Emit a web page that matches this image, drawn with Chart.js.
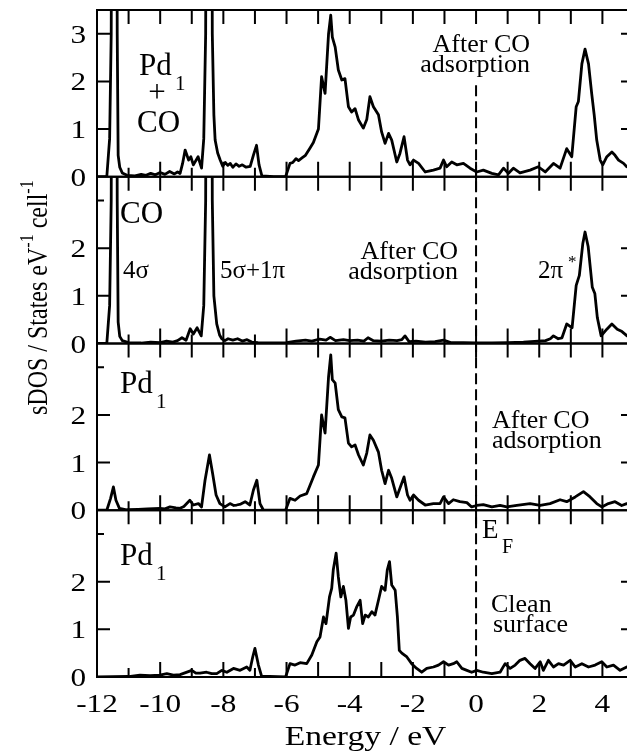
<!DOCTYPE html>
<html><head><meta charset="utf-8">
<script src="https://cdn.jsdelivr.net/npm/chart.js@4/dist/chart.umd.min.js"></script>
<style>
html,body{margin:0;padding:0;background:#fff;overflow:hidden;width:627px;height:751px}
#wrap{position:absolute;left:0;top:0;width:640px;height:751px}
.pre{font-family:"Liberation Serif";position:absolute;left:-999px;top:0}
</style>
</head><body>
<span class="pre">Pd</span>
<div id="wrap"><canvas id="c" width="640" height="751"></canvas></div>
<script>
// ---------- data ----------
const X_MIN = -12, X_MAX = 5;
const X_TICK_LABELS = [-12, -10, -8, -6, -4, -2, 0, 2, 4];
const X_TICKS = [-11, -10, -9, -8, -7, -6, -5, -4, -3, -2, -1, 0, 1, 2, 3, 4];
const Y_TICK_LABELS_TOP = [0, 1, 2, 3];
const Y_TICK_LABELS = [0, 1, 2];
const Y_TICKS = [1, 2, 3];
const Y_MAX = 3.5;

// Panel 1: Pd1 + CO (after CO adsorption)   [energy eV, sDOS]
const PD_CO = [[-12,0],[-11.69,0],[-11.6,0.8],[-11.55,3.0],[-11.5,15],[-11.4,15],[-11.36,3.0],[-11.33,0.45],[-11.28,0.2],[-11.2,0.08],[-11.05,0.03],[-10.8,0.02],[-10.6,0.05],[-10.45,0.03],[-10.3,0.07],[-10.15,0.04],[-10.0,0.09],[-9.85,0.05],[-9.7,0.11],[-9.55,0.06],[-9.45,0.1],[-9.37,0.07],[-9.29,0.28],[-9.21,0.56],[-9.1,0.35],[-9.03,0.42],[-8.95,0.25],[-8.8,0.42],[-8.69,0.18],[-8.62,0.8],[-8.56,3.0],[-8.51,15],[-8.39,15],[-8.35,3.0],[-8.3,1.3],[-8.26,0.77],[-8.18,0.5],[-8.1,0.35],[-8.02,0.22],[-7.94,0.3],[-7.86,0.24],[-7.78,0.28],[-7.7,0.2],[-7.6,0.27],[-7.5,0.22],[-7.4,0.25],[-7.28,0.2],[-7.15,0.22],[-7.05,0.45],[-6.95,0.66],[-6.87,0.25],[-6.78,0.02],[-6.4,0],[-6.03,0],[-5.89,0.28],[-5.8,0.3],[-5.7,0.38],[-5.62,0.34],[-5.5,0.4],[-5.4,0.45],[-5.26,0.6],[-5.15,0.72],[-4.99,1.0],[-4.89,2.1],[-4.78,1.75],[-4.67,3.0],[-4.6,3.39],[-4.55,2.93],[-4.46,2.72],[-4.36,2.24],[-4.25,2.03],[-4.15,2.06],[-4.04,1.47],[-3.94,1.36],[-3.83,1.43],[-3.72,1.19],[-3.57,1.02],[-3.46,1.2],[-3.36,1.68],[-3.25,1.47],[-3.09,1.3],[-2.99,0.94],[-2.88,0.7],[-2.77,0.91],[-2.67,0.77],[-2.51,0.31],[-2.41,0.49],[-2.28,0.84],[-2.17,0.35],[-2.09,0.25],[-1.98,0.35],[-1.82,0.28],[-1.61,0.1],[-1.35,0.14],[-1.14,0.18],[-1.03,0.35],[-0.93,0.21],[-0.77,0.31],[-0.61,0.25],[-0.4,0.28],[-0.19,0.18],[0.02,0.1],[0.23,0.14],[0.5,0.07],[0.71,0.04],[0.87,0.18],[1.02,0.07],[1.18,0.18],[1.39,0.08],[1.71,0.14],[1.97,0.21],[2.19,0.1],[2.45,0.28],[2.66,0.18],[2.87,0.59],[3.03,0.42],[3.17,1.47],[3.24,1.58],[3.35,2.37],[3.45,2.68],[3.56,2.37],[3.66,1.75],[3.74,1.3],[3.82,0.77],[3.93,0.35],[4.01,0.25],[4.14,0.42],[4.3,0.52],[4.4,0.45],[4.51,0.35],[4.67,0.28],[4.77,0.21],[5.0,0.25]];

// Panel 2: CO (after CO adsorption)
const CO = [[-12,0],[-11.69,0],[-11.6,0.8],[-11.55,3.0],[-11.5,15],[-11.4,15],[-11.36,3.0],[-11.33,0.45],[-11.28,0.15],[-11.2,0.06],[-11.0,0.02],[-10.6,0.01],[-10.3,0.03],[-10.0,0.02],[-9.8,0.05],[-9.6,0.03],[-9.45,0.06],[-9.31,0.12],[-9.18,0.07],[-9.05,0.31],[-8.95,0.2],[-8.83,0.33],[-8.7,0.16],[-8.62,0.8],[-8.56,3.0],[-8.51,15],[-8.39,15],[-8.35,3.0],[-8.3,1.0],[-8.21,0.41],[-8.12,0.18],[-8.05,0.1],[-7.95,0.06],[-7.85,0.1],[-7.7,0.07],[-7.55,0.1],[-7.4,0.05],[-7.25,0.08],[-7.1,0.03],[-6.9,0.02],[-6.5,0.01],[-6.0,0.02],[-5.7,0.05],[-5.4,0.07],[-5.2,0.05],[-4.95,0.09],[-4.75,0.07],[-4.62,0.13],[-4.45,0.06],[-4.2,0.08],[-4.0,0.06],[-3.75,0.07],[-3.55,0.05],[-3.42,0.12],[-3.25,0.06],[-3.0,0.05],[-2.75,0.07],[-2.5,0.06],[-2.35,0.08],[-2.25,0.16],[-2.12,0.04],[-1.9,0.05],[-1.6,0.03],[-1.3,0.04],[-1.03,0.07],[-0.8,0.02],[-0.4,0.02],[0,0.01],[0.5,0.01],[1.0,0.02],[1.5,0.03],[1.97,0.05],[2.2,0.06],[2.35,0.1],[2.45,0.16],[2.6,0.1],[2.72,0.12],[2.87,0.41],[3.04,0.33],[3.17,1.22],[3.27,1.43],[3.38,2.1],[3.45,2.34],[3.55,2.03],[3.68,1.18],[3.76,1.05],[3.84,0.54],[3.96,0.16],[4.14,0.3],[4.3,0.41],[4.47,0.3],[4.62,0.25],[4.78,0.16],[5.0,0.12]];

// Panel 3: Pd1 (after CO adsorption)
const PD_ADS = [[-12,0],[-11.69,0],[-11.57,0.25],[-11.48,0.49],[-11.4,0.21],[-11.29,0.04],[-11.06,0.01],[-10.7,0.02],[-10.4,0.03],[-10.01,0.04],[-9.85,0.03],[-9.69,0.07],[-9.5,0.05],[-9.37,0.04],[-9.25,0.08],[-9.06,0.21],[-8.95,0.11],[-8.79,0.14],[-8.69,0.07],[-8.58,0.63],[-8.44,1.16],[-8.34,0.77],[-8.23,0.32],[-8.11,0.14],[-7.95,0.07],[-7.79,0.14],[-7.67,0.1],[-7.58,0.11],[-7.45,0.13],[-7.31,0.18],[-7.16,0.11],[-7.05,0.42],[-6.94,0.63],[-6.84,0.14],[-6.73,0],[-6.03,0],[-5.89,0.25],[-5.73,0.21],[-5.57,0.3],[-5.36,0.35],[-5.15,0.7],[-4.99,0.95],[-4.89,2.0],[-4.78,1.62],[-4.67,2.8],[-4.6,3.26],[-4.55,2.74],[-4.46,2.67],[-4.36,2.11],[-4.25,1.96],[-4.15,1.94],[-4.04,1.41],[-3.94,1.33],[-3.83,1.37],[-3.72,1.16],[-3.57,0.95],[-3.46,1.2],[-3.36,1.58],[-3.25,1.47],[-3.09,1.22],[-2.99,0.84],[-2.88,0.56],[-2.77,0.84],[-2.67,0.67],[-2.51,0.28],[-2.41,0.46],[-2.28,0.7],[-2.17,0.32],[-2.09,0.21],[-1.98,0.32],[-1.82,0.21],[-1.61,0.11],[-1.35,0.14],[-1.14,0.14],[-1.03,0.28],[-0.87,0.14],[-0.72,0.22],[-0.51,0.18],[-0.29,0.16],[-0.14,0.07],[0.02,0.1],[0.23,0.12],[0.5,0.07],[0.76,0.1],[0.97,0.07],[1.29,0.1],[1.71,0.14],[2.03,0.1],[2.34,0.14],[2.66,0.22],[2.87,0.18],[3.14,0.28],[3.4,0.39],[3.61,0.28],[3.82,0.14],[3.98,0.07],[4.19,0.14],[4.4,0.18],[4.61,0.1],[4.77,0.14],[5.0,0.12]];

// Panel 4: Pd1 (clean surface)
const PD_CLEAN = [[-12,0],[-11,0.01],[-10.64,0.04],[-10.32,0.03],[-10.01,0.04],[-9.79,0.07],[-9.58,0.04],[-9.37,0.05],[-9.0,0.14],[-8.87,0.08],[-8.74,0.08],[-8.53,0.1],[-8.37,0.07],[-8.21,0.07],[-8.05,0.14],[-7.89,0.1],[-7.68,0.18],[-7.47,0.14],[-7.26,0.21],[-7.16,0.14],[-7.07,0.42],[-7.0,0.6],[-6.89,0.25],[-6.79,0.02],[-6.03,0],[-5.89,0.28],[-5.73,0.25],[-5.57,0.3],[-5.36,0.28],[-5.2,0.46],[-5.04,0.74],[-4.94,0.84],[-4.83,1.26],[-4.75,1.12],[-4.64,1.68],[-4.57,1.86],[-4.52,2.25],[-4.43,2.6],[-4.36,2.1],[-4.28,1.68],[-4.2,1.9],[-4.12,1.61],[-4.04,1.02],[-3.97,1.26],[-3.88,1.3],[-3.78,1.47],[-3.67,1.61],[-3.59,1.12],[-3.51,1.3],[-3.41,1.26],[-3.3,1.37],[-3.2,1.3],[-3.09,1.61],[-2.99,1.9],[-2.88,1.82],[-2.81,2.25],[-2.74,2.42],[-2.67,1.93],[-2.56,1.82],[-2.49,1.26],[-2.43,0.56],[-2.35,0.5],[-2.19,0.42],[-2.04,0.28],[-1.88,0.18],[-1.72,0.1],[-1.56,0.18],[-1.35,0.21],[-1.19,0.25],[-1.03,0.32],[-0.87,0.25],[-0.72,0.28],[-0.61,0.32],[-0.45,0.18],[-0.29,0.14],[-0.14,0.1],[0.02,0.14],[0.23,0.1],[0.5,0.07],[0.76,0.1],[0.92,0.28],[1.08,0.18],[1.24,0.25],[1.39,0.35],[1.55,0.39],[1.71,0.28],[1.87,0.18],[2.03,0.32],[2.13,0.14],[2.29,0.35],[2.45,0.21],[2.61,0.28],[2.77,0.25],[2.98,0.35],[3.14,0.21],[3.35,0.28],[3.56,0.21],[3.77,0.25],[3.98,0.32],[4.14,0.21],[4.35,0.25],[4.56,0.14],[4.77,0.21],[5.0,0.18]];

const SERIES = [PD_CO, CO, PD_ADS, PD_CLEAN];

// ---------- chart ----------
const SERIF = '"Liberation Serif", "Times New Roman", Times, serif';
const STRETCH = 1.25;

const yScales = {};
SERIES.forEach((s, k) => {
  yScales['y' + k] = { type: 'linear', display: false,
    min: -Y_MAX * (3 - k), max: Y_MAX * (k + 1) };
});

function panelBox(chart, k) {
  const ys = chart.scales['y' + k];
  return { top: ys.getPixelForValue(Y_MAX), bottom: ys.getPixelForValue(0) };
}

function txt(ctx, s, x, y, size, align, sx) {
  ctx.save();
  ctx.font = size + 'px ' + SERIF;
  ctx.textAlign = align || 'left';
  ctx.textBaseline = 'alphabetic';
  ctx.translate(x, y);
  ctx.scale(sx || 1, 1);
  ctx.fillText(s, 0, 0);
  ctx.restore();
}

const panelClip = {
  id: 'panelClip',
  beforeDatasetDraw(chart, args) {
    const k = args.index;
    const ca = chart.chartArea;
    const b = panelBox(chart, k);
    const ctx = chart.ctx;
    ctx.save();
    ctx.beginPath();
    ctx.rect(ca.left, b.top, ca.right - ca.left, b.bottom - b.top);
    ctx.clip();
  },
  afterDatasetDraw(chart) { chart.ctx.restore(); }
};

const decor = {
  id: 'decor',
  afterDraw(chart) {
    const ctx = chart.ctx;
    const ca = chart.chartArea;
    const xs = chart.scales.x;
    ctx.save();
    ctx.fillStyle = '#000';
    ctx.strokeStyle = '#000';

    // dashed Fermi line
    const x0 = xs.getPixelForValue(0);
    ctx.lineWidth = 2;
    ctx.setLineDash([11, 5]);
    ctx.beginPath();
    ctx.moveTo(x0, chart.scales.y0.getPixelForValue(1.92));
    ctx.lineTo(x0, ca.bottom);
    ctx.stroke();
    ctx.setLineDash([]);

    // frames and ticks
    ctx.lineWidth = 2;
    for (let k = 0; k < 4; k++) {
      const b = panelBox(chart, k);
      ctx.strokeRect(ca.left, b.top, ca.right - ca.left, b.bottom - b.top);
      ctx.beginPath();
      X_TICKS.forEach(v => {
        const px = xs.getPixelForValue(v);
        const len = (v % 2 !== 0 && v < -6) ? 9 : 15;
        ctx.moveTo(px, b.top); ctx.lineTo(px, b.top + 14);
        ctx.moveTo(px, b.bottom); ctx.lineTo(px, b.bottom - len);
      });
      const ys = chart.scales['y' + k];
      Y_TICKS.forEach(v => {
        const py = ys.getPixelForValue(v);
        const len = (k > 0 && v === 3) ? 7 : 13;
        ctx.moveTo(ca.left, py); ctx.lineTo(ca.left + len, py);
        ctx.moveTo(ca.right, py); ctx.lineTo(ca.right - len, py);
      });
      ctx.stroke();
      const labels = k === 0 ? Y_TICK_LABELS_TOP : Y_TICK_LABELS;
      labels.forEach(v => {
        txt(ctx, String(v), ca.left - 11, ys.getPixelForValue(v) + 9, 25, 'right', STRETCH);
      });
    }

    X_TICK_LABELS.forEach(v => {
      txt(ctx, String(v), xs.getPixelForValue(v), ca.bottom + 35, 25, 'center', STRETCH);
    });
    txt(ctx, 'Energy / eV', (ca.left + ca.right) / 2, 745, 28, 'center', 1.2);

    // y title (rotated, with superscripts)
    ctx.save();
    ctx.translate(47, 415);
    ctx.scale(1.23, 1);
    ctx.rotate(-Math.PI / 2);
    ctx.textAlign = 'left';
    ctx.textBaseline = 'alphabetic';
    let cx = 0;
    const part = (s, size, dy) => {
      ctx.font = size + 'px ' + SERIF;
      ctx.fillText(s, cx, dy);
      cx += ctx.measureText(s).width;
    };
    part('sDOS / States eV', 24, 0);
    part('-1', 16, -11);
    part(' cell', 24, 0);
    part('-1', 16, -11);
    ctx.restore();

    // panel 1
    txt(ctx, 'Pd', 139, 75, 31);
    txt(ctx, '1', 175, 90, 21);
    txt(ctx, '+', 157, 102, 31, 'center');
    txt(ctx, 'CO', 137, 132, 31);
    txt(ctx, 'After CO', 530, 52, 26, 'right');
    txt(ctx, 'adsorption', 530, 72, 26, 'right');
    // panel 2
    txt(ctx, 'CO', 120, 223, 31);
    txt(ctx, '4\u03c3', 123, 278, 25);
    txt(ctx, '5\u03c3+1\u03c0', 220, 278, 25);
    txt(ctx, 'After CO', 458, 259, 26, 'right');
    txt(ctx, 'adsorption', 458, 279, 26, 'right');
    txt(ctx, '2\u03c0', 538, 278, 25);
    txt(ctx, '*', 568, 267, 17);
    // panel 3
    txt(ctx, 'Pd', 120, 393, 31);
    txt(ctx, '1', 156, 408, 21);
    txt(ctx, 'After CO', 492, 428, 26);
    txt(ctx, 'adsorption', 492, 448, 26);
    // panel 4
    txt(ctx, 'Pd', 120, 565, 31);
    txt(ctx, '1', 156, 580, 21);
    txt(ctx, 'E', 482, 538, 27);
    txt(ctx, 'F', 502, 553, 20);
    txt(ctx, 'Clean', 491, 612, 26);
    txt(ctx, 'surface', 493, 632, 26);

    ctx.restore();
  }
};

function build() {
  new Chart(document.getElementById('c'), {
    type: 'line',
    data: {
      datasets: SERIES.map((s, k) => ({
        data: s.map(p => ({ x: p[0], y: p[1] })),
        yAxisID: 'y' + k,
        borderColor: '#000',
        borderWidth: 2.8,
        pointRadius: 0,
        tension: 0,
        fill: false,
        borderJoinStyle: 'round'
      }))
    },
    options: {
      responsive: false,
      animation: false,
      devicePixelRatio: 1,
      layout: { padding: { left: 97, right: 6, top: 10, bottom: 74 } },
      plugins: { legend: { display: false }, tooltip: { enabled: false } },
      scales: Object.assign({
        x: { type: 'linear', display: false, min: X_MIN, max: X_MAX }
      }, yScales)
    },
    plugins: [panelClip, decor]
  });
}

const fontsReady = (document.fonts && document.fonts.load)
  ? Promise.all([document.fonts.load('25px "Liberation Serif"'), document.fonts.load('25px "Times New Roman"')]).catch(() => {})
  : Promise.resolve();
fontsReady.then(build, build);
</script>
</body></html>
